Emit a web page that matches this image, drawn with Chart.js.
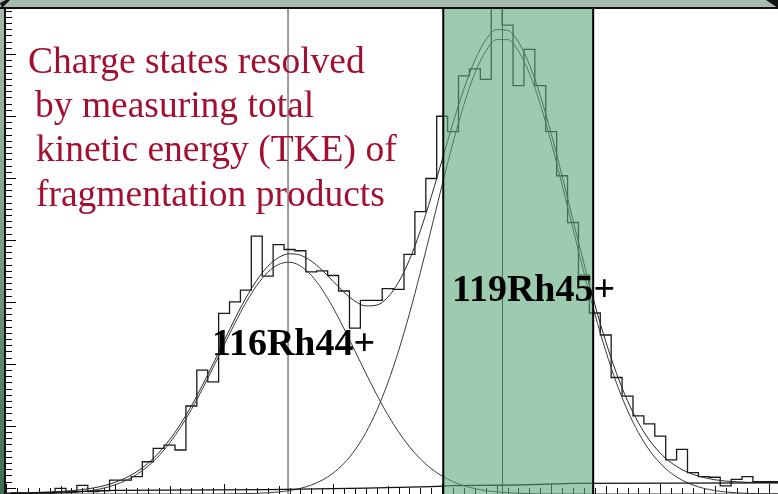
<!DOCTYPE html>
<html>
<head>
<meta charset="utf-8">
<script src="https://cdn.jsdelivr.net/npm/chart.js@4.4.1/dist/chart.umd.min.js"></script>
<style>
  html, body { margin: 0; padding: 0; background: #fff; }
  #wrap { position: relative; width: 778px; height: 494px; }
</style>
</head>
<body>
<div id="wrap"><canvas id="chartTke"></canvas></div>
<script>
// TKE channels (bin centres)
const channels = [0,1,2,3,4,5,6,7,8,9,10,11,12,13,14,15,16,17,18,19,20,21,22,23,24,25,26,27,28,29,
  30,31,32,33,34,35,36,37,38,39,40,41,42,43,44,45,46,47,48,49,50,51,52,53,54,55,56,57,58,59,
  60,61,62,63,64,65,66,67,68,69,70,71];

// measured histogram counts
const counts = [0,0.4,0,0.3,0.3,1.8,0.6,2.8,0.8,1.1,4.5,4.5,5.6,10.4,14.7,15.8,14.2,28.4,40,36.2,
  58.3,62,65.8,83.2,70.3,80.5,78.9,78.5,71.7,72,70.5,65.5,53.5,62.5,62.5,66.3,66,77.3,91.1,101.8,
  121.9,116.9,134.9,137.2,133.8,165,151.3,131.8,143.5,131.8,116.9,102.7,87.6,70.6,58.4,51.3,37.6,31.6,25.2,22.6,
  18.7,11,14.4,6.9,5.6,5.4,2.6,4.7,5.6,4,4,4];

// fit component for 116Rh44+
const fit116 = [0,0.03,0.05,0.09,0.16,0.28,0.47,0.77,1.24,1.94,2.95,4.38,6.33,8.92,12.25,16.41,21.43,27.24,33.79,40.81,
  48.07,55.16,61.72,67.3,71.52,74.08,74.79,73.58,70.57,65.96,60.09,53.35,46.17,38.95,32.02,25.66,20.04,15.25,11.31,8.18,
  5.77,3.96,2.65,1.73,1.1,0.68,0.41,0.24,0.14,0.08,0.04,0.02,0.01,0,0,0,0,0,0,0,
  0,0,0,0,0,0,0,0,0,0,0,0];

// fit component for 119Rh45+
const fit119 = [0,0,0,0,0,0,0,0,0,0,0,0,0,0,0,0,0,0,0,0,
  0.03,0.07,0.12,0.22,0.39,0.67,1.12,1.82,2.89,4.47,6.73,9.9,14.18,19.79,26.93,35.72,46.19,58.18,71.45,85.51,
  99.76,113.43,125.7,135.76,142.91,146.63,146.63,142.91,135.76,125.7,113.43,99.76,85.51,71.45,58.18,46.19,35.72,26.93,19.79,14.18,
  9.9,6.73,4.47,2.89,1.82,1.12,0.67,0.39,0.22,0.12,0.07,0.03];

// total fit (both components + background)
const fitTotal = [0.3,0.4,0.45,0.54,0.66,0.83,1.07,1.42,1.94,2.69,3.75,5.23,7.23,9.87,13.25,17.46,22.53,28.39,34.99,42.06,
  49.4,56.58,63.24,68.97,73.41,76.3,77.51,77.05,75.16,72.18,68.62,65.1,62.25,60.69,60.95,63.43,68.33,75.58,84.96,95.94,
  107.83,119.74,130.75,139.94,146.51,149.86,149.64,145.8,138.6,128.53,116.27,102.63,88.41,74.4,61.18,49.24,38.82,30.08,22.99,17.43,
  13.2,10.08,7.87,6.34,5.32,4.62,4.17,3.94,3.77,3.72,3.67,3.63];

// background line
const bgX = [0, 10, 24, 33, 39, 41, 47, 52, 71];
const bgY = [0, 1.2, 1.4, 1.9, 2.4, 2.7, 2.9, 3.4, 3.6];

// peak centroids and the gate
const peakCentres = [25.87, 45.5];
const gate = [40.1, 53.85];

const xMax = 70.8;
const yMax = 156.5;

const captionLines = ['Charge states resolved', 'by measuring total', 'kinetic energy (TKE) of', 'fragmentation products'];
const peakLabels = ['116Rh44+', '119Rh45+'];

function pts(xs, ys) {
  return xs.map(function (x, i) { return { x: x, y: ys[i] }; });
}

const decor = {
  id: 'decor',
  beforeDraw(chart) {
    const { ctx, chartArea: a, width, height } = chart;
    ctx.save();
    ctx.fillStyle = '#a7bbaf';
    ctx.fillRect(0, 0, width, a.top);
    const g = ctx.createLinearGradient(0, 0, 0, height);
    g.addColorStop(0, '#a7bbaf');
    g.addColorStop(0.4, '#86a591');
    g.addColorStop(1, '#3f6e52');
    ctx.fillStyle = g;
    ctx.fillRect(0, a.top, a.left, height - a.top);
    ctx.fillStyle = '#ffffff';
    ctx.fillRect(a.left, a.top, a.right - a.left, a.bottom - a.top);
    ctx.restore();
  },
  beforeDatasetsDraw(chart) {
    const { ctx, chartArea: a, scales } = chart;
    const x = scales.x, y = scales.y;
    ctx.save();
    // centroid markers
    ctx.strokeStyle = '#9a9a9a';
    ctx.lineWidth = 2;
    let px = x.getPixelForValue(peakCentres[0]);
    ctx.beginPath(); ctx.moveTo(px, a.top); ctx.lineTo(px, a.bottom); ctx.stroke();
    ctx.strokeStyle = '#2a2a2a';
    ctx.lineWidth = 1;
    px = Math.round(x.getPixelForValue(peakCentres[1])) + 0.5;
    ctx.beginPath(); ctx.moveTo(px, a.top); ctx.lineTo(px, a.bottom); ctx.stroke();

    // bottom ticks
    ctx.strokeStyle = '#111';
    ctx.lineWidth = 1;
    for (let v = 0; v <= xMax; v += 1) {
      const tx = Math.round(x.getPixelForValue(v)) + 0.5;
      const len = v % 10 === 0 ? 10 : (v % 5 === 0 ? 8 : 6);
      ctx.beginPath(); ctx.moveTo(tx, a.bottom); ctx.lineTo(tx, a.bottom - len); ctx.stroke();
    }
    // left ticks
    ctx.strokeStyle = '#000';
    for (let v = 0; v <= yMax; v += 2) {
      const ty = Math.round(y.getPixelForValue(v)) + 0.5;
      const len = (v - 2) % 20 === 0 ? 10 : 6;
      ctx.beginPath(); ctx.moveTo(a.left, ty); ctx.lineTo(a.left + len, ty); ctx.stroke();
    }
    ctx.restore();
  },
  afterDatasetsDraw(chart) {
    const { ctx, chartArea: a, scales, width } = chart;
    const x = scales.x;
    const g0 = x.getPixelForValue(gate[0]);
    const g1 = x.getPixelForValue(gate[1]);
    ctx.save();
    // gate overlay
    ctx.fillStyle = 'rgba(90,168,123,0.6)';
    ctx.fillRect(g0, a.top, g1 - g0, a.bottom - a.top);
    ctx.strokeStyle = '#000';
    ctx.lineWidth = 2;
    ctx.beginPath();
    ctx.moveTo(g0, a.top); ctx.lineTo(g0, a.bottom);
    ctx.moveTo(g1, a.top); ctx.lineTo(g1, a.bottom);
    ctx.stroke();

    // frame
    ctx.fillStyle = '#111';
    ctx.fillRect(0, a.top - 2, width, 2);
    ctx.fillRect(a.left - 2, a.top - 2, 2, a.bottom - a.top + 2);
    ctx.beginPath();
    ctx.moveTo(0, 3); ctx.lineTo(6, 0); ctx.lineTo(10, 0); ctx.lineTo(2, 8); ctx.closePath();
    ctx.fill();
    ctx.beginPath();
    ctx.moveTo(766, 0); ctx.lineTo(778, 0); ctx.lineTo(778, 8); ctx.closePath();
    ctx.fill();

    // caption
    ctx.fillStyle = '#a30f31';
    ctx.font = '37.5px "Liberation Serif", "Times New Roman", serif';
    ctx.textBaseline = 'alphabetic';
    ctx.textAlign = 'left';
    ctx.fillText(captionLines[0], 28, 73);
    ctx.fillText(captionLines[1], 35, 117);
    ctx.fillText(captionLines[2], 36, 161);
    ctx.fillText(captionLines[3], 36, 206);

    // peak labels
    ctx.fillStyle = '#000';
    ctx.font = 'bold 38px "Liberation Serif", "Times New Roman", serif';
    ctx.fillText(peakLabels[0], 212, 355);
    ctx.fillText(peakLabels[1], 452, 301);
    ctx.restore();
  }
};

const config = {
  type: 'line',
  data: {
    datasets: [
      {
        label: 'background',
        data: pts(bgX, bgY),
        borderColor: '#111',
        borderWidth: 1.3,
        pointRadius: 0,
        tension: 0
      },
      {
        label: '116Rh44+ fit',
        data: pts(channels, fit116),
        borderColor: '#3a3a3a',
        borderWidth: 1,
        pointRadius: 0,
        cubicInterpolationMode: 'monotone'
      },
      {
        label: '119Rh45+ fit',
        data: pts(channels, fit119),
        borderColor: '#3a3a3a',
        borderWidth: 1,
        pointRadius: 0,
        cubicInterpolationMode: 'monotone'
      },
      {
        label: 'total fit',
        data: pts(channels, fitTotal),
        borderColor: '#2a2a2a',
        borderWidth: 1,
        pointRadius: 0,
        cubicInterpolationMode: 'monotone'
      },
      {
        label: 'TKE',
        data: pts(channels, counts),
        borderColor: '#1a1a1a',
        borderWidth: 1.3,
        pointRadius: 0,
        stepped: 'middle'
      }
    ]
  },
  options: {
    responsive: true,
    maintainAspectRatio: false,
    animation: false,
    layout: { padding: { left: 6, top: 9, right: 0, bottom: 0 } },
    scales: {
      x: { type: 'linear', min: 0, max: xMax, display: false },
      y: { min: 0, max: yMax, display: false }
    },
    plugins: {
      legend: { display: false },
      tooltip: { enabled: false }
    }
  },
  plugins: [decor]
};

const chartTke = new Chart(document.getElementById('chartTke'), config);
</script>
</body>
</html>
